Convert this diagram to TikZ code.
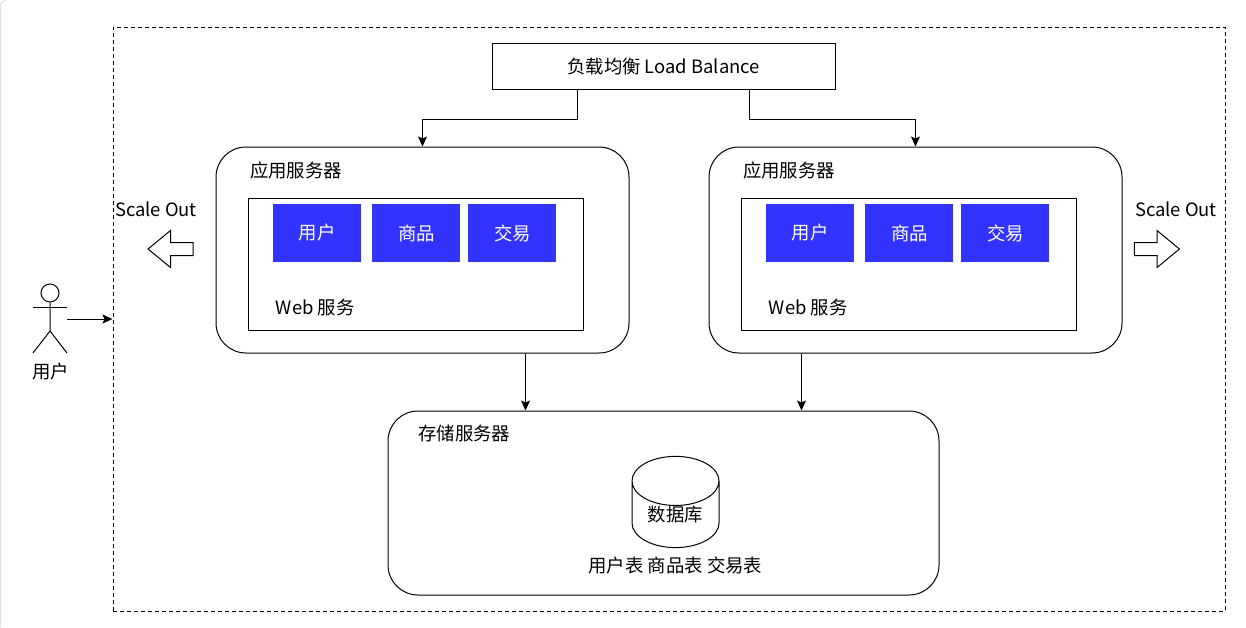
\documentclass[tikz,border=0pt]{standalone}
\usepackage{fontspec}
\setmainfont{Noto Sans CJK SC}
\usetikzlibrary{positioning,calc,arrows.meta,shapes.arrows,shapes.geometric}

\begin{document}
\begin{tikzpicture}[
		x=1pt, y=-1pt,
		font=\fontsize{18.4}{22}\selectfont,
		>={Stealth[length=10pt,width=9pt,inset=2pt]},
		line/.style={line width=1pt},
		rectnode/.style={rectangle, draw=black, line width=1pt, inner sep=0pt},
		servernode/.style={rectnode, rounded corners=30pt, minimum width=413pt, minimum height=206pt},
		webnode/.style={rectnode, minimum width=335pt, minimum height=132pt},
		modnode/.style={rectangle, fill=modblue, text=white, inner sep=0pt, minimum width=88pt, minimum height=58pt},
		scalenode/.style={single arrow, draw=black, line width=1pt, inner sep=0pt, inner ysep=6pt, minimum height=45pt, minimum width=36pt, single arrow head extend=12pt, single arrow tip angle=79},
	]
		\definecolor{modblue}{HTML}{3333FF}
		\useasboundingbox (0,0) rectangle (1246,627);

		% page edge
		\draw[draw=black!12, line width=1pt] (0.5,627) -- (0.5,7) .. controls (0.5,3) and (2,1) .. (6,0.5);

		% nodes
		\node[rectnode, dashed, dash pattern=on 4pt off 3pt, minimum width=1112pt, minimum height=584pt] (frame) at (669,319) {};
		\node[rectnode, minimum width=343pt, minimum height=46pt] (lb) at (663.5,66.6) {负载均衡 Load Balance};

		\node[servernode] (appa) at (422.5,250) {};
		\node[webnode] (weba) at (415.5,264) {};
		\node[modnode] (usera) at (317,233) {用户};
		\node[modnode] (gooda) [right=11pt of usera] {商品};
		\node[modnode] (dealb) [right=7.6pt of gooda] {交易};
		\node (titlea) at (296,170.5) {应用服务器};
		\node (laba) at (315.2,307.8) {Web 服务};

		\node[servernode] (appb) [right=79pt of appa] {};
		\node[webnode] (webb) at (908.5,264) {};
		\node[modnode] (userb) at (810,233) {用户};
		\node[modnode] (goodb) [right=11pt of userb] {商品};
		\node[modnode] (dealc) [right=7.6pt of goodb] {交易};
		\node (titleb) at (789,170.5) {应用服务器};
		\node (labb) at (808.2,307.8) {Web 服务};

		\node[rectnode, rounded corners=30pt, minimum width=551pt, minimum height=184pt] (store) at (663.5,503) {};
		\node (titlec) at (464.2,433.5) {存储服务器};
		\node[cylinder, draw=black, line width=1pt, shape border rotate=90, aspect=0.89, inner sep=0pt, minimum width=87pt, minimum height=43pt] (db) at (675.5,514.5) {数据库};
		\node (tables) at (675.3,565.8) {用户表 商品表 交易表};

		\node (scalel) at (156,209.6) {Scale Out};
		\node (scaler) at (1176,209.6) {Scale Out};
		\node[scalenode, shape border rotate=180] (arrowl) at (174.5,249) {};
		\node[scalenode] (arrowr) at (1153,249) {};

		% user figure
		\node[circle, draw=black, line width=1pt, minimum size=18pt, inner sep=0pt] (head) at (50,293) {};
		\node[minimum width=34pt, minimum height=69pt, inner sep=0pt] (actor) at (50,319) {};
		\node (actorlab) at (50.5,371.8) {用户};
		\draw[line] (head.south) -- (50,331) -- (33,353);
		\draw[line] (50,331) -- (67,353);
		\draw[line] (33,307.5) -- (67,307.5);

		% lines
		\coordinate (lbl) at ($(lb.south west)!0.25!(lb.south east)$);
		\coordinate (lbr) at ($(lb.south west)!0.75!(lb.south east)$);
		\coordinate (storel) at ($(store.north west)!0.25!(store.north east)$);
		\coordinate (storer) at ($(store.north west)!0.75!(store.north east)$);
		\draw[line, ->] (lbl) -- ++(0,29) -| (appa.north);
		\draw[line, ->] (lbr) -- ++(0,29) -| (appb.north);
		\draw[line, ->] (storel |- appa.south) -- (storel);
		\draw[line, ->] (storer |- appb.south) -- (storer);
		\draw[line, ->] (actor.east) -- (frame.west);
	\end{tikzpicture}
\end{document}
